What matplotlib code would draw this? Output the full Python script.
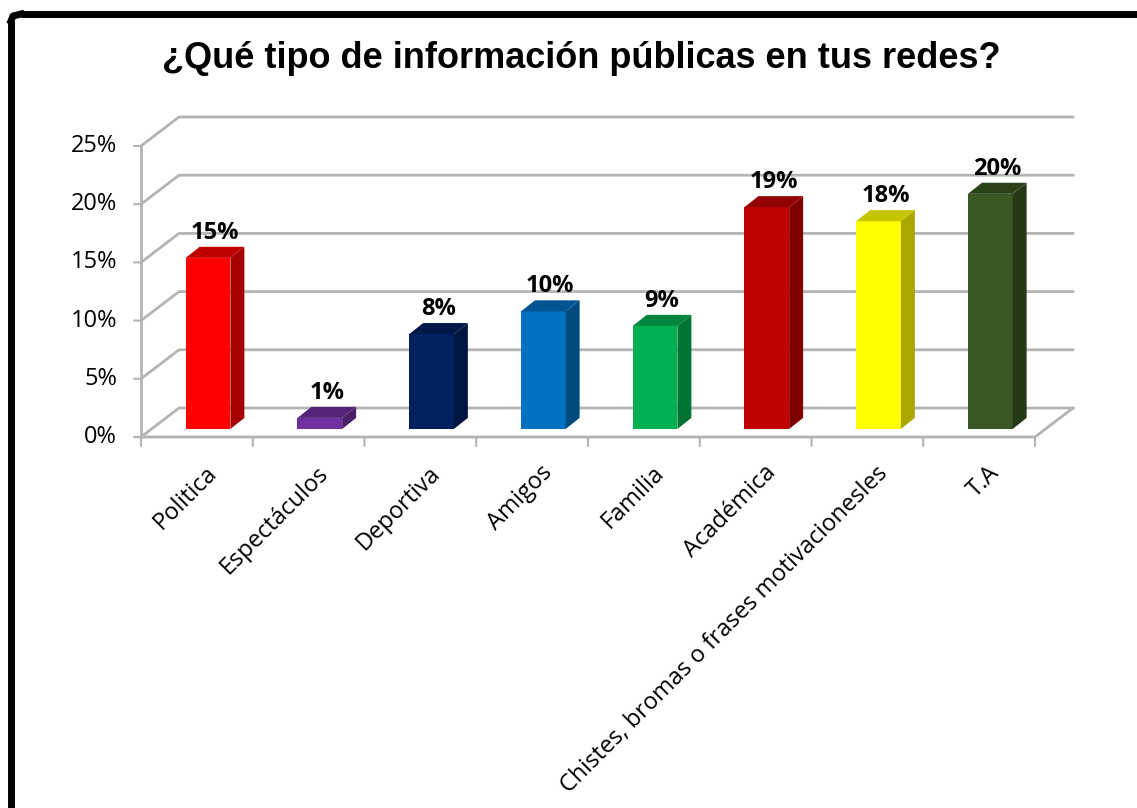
"""Barras con falso 3D: ¿Qué tipo de información públicas en tus redes?"""

import matplotlib

matplotlib.use("Agg")
import matplotlib.pyplot as plt
from matplotlib.patches import Polygon

W, H = 1137, 808

categorias = [
    "Politica",
    "Espectáculos",
    "Deportiva",
    "Amigos",
    "Familia",
    "Académica",
    "Chistes, bromas o frases motivacionesles",
    "T.A",
]
valores = [14.7, 0.95, 8.15, 10.1, 8.85, 19.05, 17.85, 20.2]
etiquetas = ["15%", "1%", "8%", "10%", "9%", "19%", "18%", "20%"]
y_ticks = [0, 5, 10, 15, 20, 25]

# (frente, lado, tapa)
colores = [
    ("#FF0000", "#A60000", "#C00000"),
    ("#7030A0", "#4A2069", "#54247A"),
    ("#002060", "#00153F", "#001849"),
    ("#0070C0", "#004A7F", "#005592"),
    ("#00B050", "#007434", "#00853D"),
    ("#C00000", "#7F0000", "#920000"),
    ("#FFFF00", "#A8A800", "#C6C600"),
    ("#385723", "#253917", "#2A421A"),
]

GRIS = "#B4B4B4"

# profundidad del suelo y de las barras, en unidades de datos
DX, DY = 0.34, 2.49
BAR_W, BAR_DX, BAR_DY = 0.40, 0.125, 0.95
BASE_X, BASE_Y = 0.10, 0.69

fig = plt.figure(figsize=(W / 100, H / 100), dpi=100, facecolor="white")

# marco negro (solo arriba e izquierda, el resto queda fuera de la imagen)
fig.add_artist(plt.Line2D([11 / W, 11 / W], [0, 1 - 21 / H], color="black", lw=5, solid_capstyle="butt"))
fig.add_artist(plt.Line2D([21 / W, 1], [1 - 14 / H, 1 - 14 / H], color="black", lw=5, solid_capstyle="butt"))
fig.add_artist(
    plt.Line2D([11 / W, 13 / W, 21 / W], [1 - 21 / H, 1 - 16 / H, 1 - 14 / H], color="black", lw=5)
)

x0, x1 = 141, 1073
y0, y1 = 437, 117
ax = fig.add_axes([x0 / W, 1 - y0 / H, (x1 - x0) / W, (y0 - y1) / H])
ax.set_xlim(-0.5, 7.5 + DX)
ax.set_ylim(0, 25 + DY)
ax.axis("off")
ax.patch.set_visible(False)

xi, xf = -0.5, 7.5
# rejilla: linea del fondo y diagonal hacia el eje
for t in y_ticks:
    ax.plot([xi, xi + DX, xf + DX], [t, t + DY, t + DY], color=GRIS, lw=2, zorder=1, clip_on=False)
# eje vertical y suelo
ax.plot([xi, xi], [0, 25], color=GRIS, lw=2, zorder=1, clip_on=False)
ax.plot([xi, xf, xf + DX], [0, 0, DY], color=GRIS, lw=2, zorder=1, clip_on=False)

# marcas de los ejes
for t in y_ticks:
    ax.annotate(
        "", xy=(xi, t), xytext=(-7, 0), textcoords="offset pixels",
        arrowprops=dict(arrowstyle="-", color=GRIS, lw=1.5, shrinkA=0, shrinkB=0),
        annotation_clip=False,
    )
    ax.annotate(
        f"{t}%", xy=(xi, t), xytext=(-24, 0), textcoords="offset pixels",
        ha="right", va="center", fontsize=17, family="Open Sans", color="black",
        annotation_clip=False,
    )
for i in range(len(categorias) + 1):
    ax.annotate(
        "", xy=(xi + i, 0), xytext=(0, -9), textcoords="offset pixels",
        arrowprops=dict(arrowstyle="-", color=GRIS, lw=1.5, shrinkA=0, shrinkB=0),
        annotation_clip=False,
    )

for i, (v, cat, et, (frente, lado, tapa)) in enumerate(zip(valores, categorias, etiquetas, colores)):
    izq = i + BASE_X - BAR_W / 2
    der = izq + BAR_W
    sup = BASE_Y + v
    ax.add_patch(Polygon([(izq, BASE_Y), (der, BASE_Y), (der, sup), (izq, sup)], fc=frente, ec="none", zorder=3))
    ax.add_patch(
        Polygon(
            [(der, BASE_Y), (der + BAR_DX, BASE_Y + BAR_DY), (der + BAR_DX, sup + BAR_DY), (der, sup)],
            fc=lado, ec="none", zorder=3,
        )
    )
    ax.add_patch(
        Polygon(
            [(izq, sup), (der, sup), (der + BAR_DX, sup + BAR_DY), (izq + BAR_DX, sup + BAR_DY)],
            fc=tapa, ec="none", zorder=3,
        )
    )
    ax.annotate(
        et, xy=(i + BASE_X + BAR_DX / 2, sup + BAR_DY), xytext=(0, 2), textcoords="offset pixels",
        ha="center", va="bottom", fontsize=17, fontweight="bold", family="Open Sans", color="black", zorder=4,
    )
    # etiqueta girada, anclada por su esquina superior derecha
    ax.annotate(
        cat, xy=(i, 0), xytext=(8, -24), textcoords="offset pixels",
        ha="right", va="top", rotation=45, rotation_mode="anchor",
        fontsize=17, family="Open Sans", color="black", annotation_clip=False,
    )

fig.text(
    581 / W, 1 - 58 / H, "¿Qué tipo de información públicas en tus redes?",
    ha="center", va="center", fontsize=26, fontweight="bold", family="Liberation Sans", color="black",
)

fig.savefig("out.png", dpi=100)
plt.close(fig)
